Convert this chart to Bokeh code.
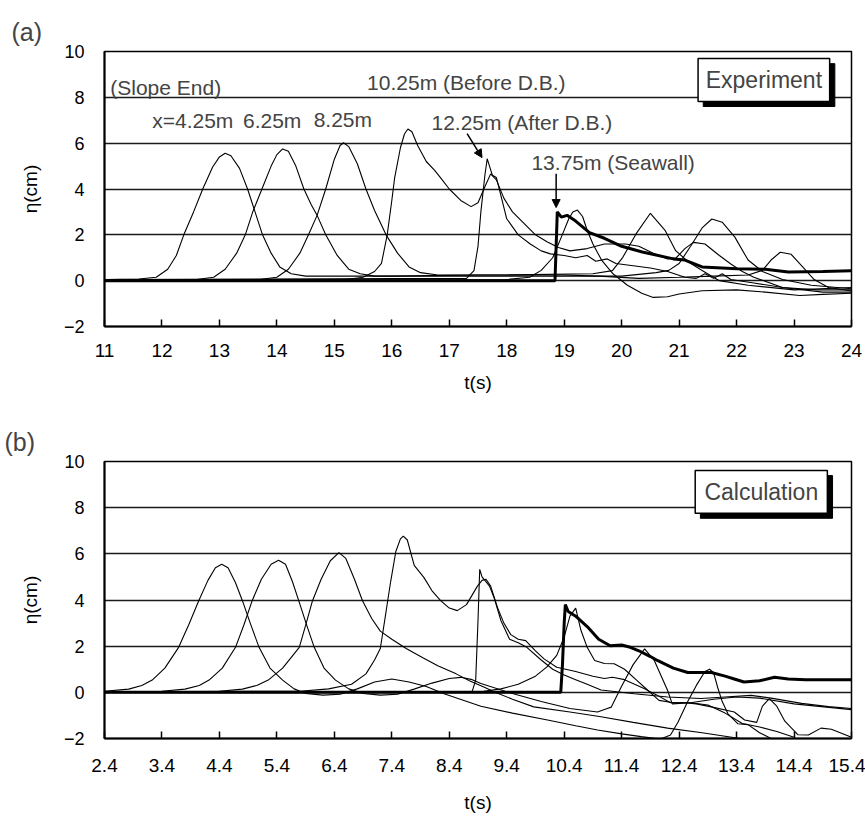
from bokeh.plotting import figure
from bokeh.layouts import column
from bokeh.models import FixedTicker, Label, Arrow, NormalHead
from bokeh.embed import file_html
from bokeh.resources import INLINE

# ---------------- (a) Experiment ----------------
a_xticks = [11, 12, 13, 14, 15, 16, 17, 18, 19, 20, 21, 22, 23, 24]
yticks = [-2, 0, 2, 4, 6, 8, 10]

a_t_425 = [11.0, 11.6, 11.9, 12.1, 12.25, 12.38, 12.55, 12.71, 12.88, 13.0, 13.1, 13.2, 13.35, 13.49, 13.62, 13.75, 13.9, 14.05, 14.25, 14.5, 16.0, 17.5, 19.0, 19.6, 20.3, 21.0, 21.6, 22.2, 22.45, 22.6, 22.76, 22.95, 23.15, 23.35, 23.6, 24.0]
a_e_425 = [0.05, 0.07, 0.15, 0.5, 1.1, 2.0, 3.0, 4.0, 4.95, 5.4, 5.56, 5.45, 4.9, 4.0, 3.0, 2.0, 1.2, 0.6, 0.3, 0.2, 0.2, 0.25, 0.25, 0.2, 0.1, 0.15, 0.2, 0.25, 0.45, 0.9, 1.24, 1.15, 0.6, 0.05, -0.3, -0.45]

a_t_625 = [11.0, 12.6, 12.9, 13.1, 13.3, 13.45, 13.58, 13.74, 13.9, 14.0, 14.1, 14.2, 14.33, 14.47, 14.6, 14.7, 14.85, 15.05, 15.25, 15.45, 15.7, 17.0, 19.0, 20.0, 20.6, 20.82, 21.0, 21.2, 21.4, 21.57, 21.75, 21.97, 22.2, 22.45, 22.8, 23.3, 24.0]
a_e_625 = [0.02, 0.05, 0.15, 0.5, 1.2, 2.0, 3.0, 4.0, 5.0, 5.5, 5.75, 5.65, 5.0, 4.0, 3.3, 2.85, 2.0, 1.1, 0.5, 0.3, 0.2, 0.2, 0.2, 0.2, 0.35, 0.45, 0.75, 1.5, 2.3, 2.69, 2.55, 1.9, 0.9, 0.4, 0.05, -0.2, -0.35]

a_t_825 = [11.0, 13.7, 14.0, 14.2, 14.4, 14.55, 14.7, 14.85, 15.0, 15.1, 15.16, 15.25, 15.4, 15.55, 15.7, 15.9, 16.1, 16.3, 16.5, 16.8, 18.0, 19.5, 19.84, 20.02, 20.25, 20.5, 20.76, 20.94, 21.17, 21.4, 21.7, 22.2, 23.0, 24.0]
a_e_825 = [0.02, 0.05, 0.15, 0.5, 1.2, 2.0, 2.85, 4.0, 5.3, 5.9, 6.02, 5.85, 5.1, 4.0, 3.06, 2.0, 1.2, 0.6, 0.35, 0.25, 0.25, 0.3, 0.44, 1.02, 2.04, 2.94, 2.18, 1.31, 0.8, 0.44, 0.0, -0.2, -0.4, -0.3]

a_t_1025 = [11.0, 15.2, 15.5, 15.7, 15.82, 15.92, 16.0, 16.05, 16.15, 16.22, 16.28, 16.35, 16.45, 16.6, 16.75, 16.86, 17.0, 17.2, 17.38, 17.5, 17.62, 17.72, 17.82, 17.95, 18.1, 18.3, 18.5, 18.7, 18.9, 19.1, 19.4, 19.7, 20.07, 20.3, 20.55, 20.8, 20.95, 21.1, 21.25, 21.45, 21.7, 21.9, 22.1, 22.3, 22.8, 23.4, 24.0]
a_e_1025 = [0.02, 0.05, 0.15, 0.4, 0.75, 2.0, 3.5, 4.5, 5.8, 6.4, 6.62, 6.5, 5.9, 5.2, 4.8, 4.45, 4.0, 3.5, 3.23, 3.4, 4.1, 4.66, 4.4, 3.6, 3.0, 2.5, 2.0, 1.7, 1.45, 1.3, 1.4, 1.6, 1.6, 1.5, 1.2, 0.95, 1.0, 1.4, 1.67, 1.6, 1.1, 0.73, 0.4, 0.15, -0.3, -0.4, -0.4]

a_t_1225 = [11.0, 17.3, 17.43, 17.5, 17.55, 17.62, 17.66, 17.7, 17.75, 17.82, 17.9, 18.0, 18.2, 18.41, 18.6, 18.76, 19.0, 19.2, 19.4, 19.55, 19.75, 19.9, 20.2, 20.5, 20.8, 21.1, 21.3, 21.45, 21.6, 21.75, 21.9, 22.3, 22.8, 23.5, 24.0]
a_e_1225 = [0.05, 0.1, 0.44, 1.5, 3.0, 4.6, 5.32, 5.0, 4.6, 4.5, 3.7, 2.7, 2.0, 1.6, 1.3, 1.17, 1.1, 1.0, 1.1, 0.85, 0.95, 0.75, 0.65, 0.55, 0.4, 0.15, 0.1, 0.3, 0.1, 0.3, 0.05, -0.1, -0.3, -0.5, -0.5]

a_t_g7 = [11.0, 18.0, 18.4, 18.6, 18.8, 18.95, 19.08, 19.15, 19.23, 19.32, 19.4, 19.5, 19.65, 19.85, 20.1, 20.35, 20.55, 20.8, 21.0, 21.4, 22.0, 22.5, 23.1, 23.5, 24.0]
a_e_g7 = [0.02, 0.05, 0.15, 0.45, 1.0, 1.9, 2.7, 3.0, 3.08, 2.8, 2.2, 1.6, 0.9, 0.3, -0.2, -0.55, -0.73, -0.7, -0.58, -0.44, -0.4, -0.5, -0.65, -0.6, -0.55]

a_t_1375 = [11.0, 18.84, 18.88, 18.95, 19.05, 19.2, 19.44, 19.7, 20.0, 20.36, 20.9, 21.1, 21.4, 22.0, 22.5, 22.9, 23.5, 24.0]
a_e_1375 = [0.0, 0.0, 3.0, 2.77, 2.85, 2.6, 2.1, 1.85, 1.5, 1.25, 0.95, 0.9, 0.6, 0.52, 0.5, 0.38, 0.4, 0.43]

# ---------------- (b) Calculation ----------------
b_xticks = [2.4, 3.4, 4.4, 5.4, 6.4, 7.4, 8.4, 9.4, 10.4, 11.4, 12.4, 13.4, 14.4, 15.4]

b_t_425 = [2.4, 2.82, 3.05, 3.23, 3.45, 3.69, 3.87, 4.04, 4.2, 4.33, 4.44, 4.55, 4.68, 4.8, 4.95, 5.09, 5.28, 5.5, 5.7, 5.9, 6.2, 6.5, 6.8, 7.1, 7.4, 7.7, 8.0, 8.31, 8.95, 9.5, 10.11, 10.6, 10.98, 11.4, 11.74, 12.0, 12.1, 12.25, 12.38, 12.55, 12.7, 12.85, 12.93, 13.0, 13.07, 13.15, 13.25, 13.42, 13.6, 13.8, 14.0]
b_e_425 = [0.05, 0.14, 0.3, 0.53, 1.05, 1.95, 2.95, 3.97, 4.85, 5.4, 5.55, 5.4, 4.75, 3.97, 2.9, 1.95, 1.05, 0.53, 0.15, -0.05, -0.12, -0.08, 0.15, 0.45, 0.58, 0.45, 0.25, -0.06, -0.6, -0.9, -1.2, -1.45, -1.63, -1.8, -1.92, -2.0, -2.0, -1.85, -1.3, -0.4, 0.3, 0.9, 1.0, 0.85, 0.22, -0.4, -0.93, -1.36, -1.4, -1.75, -2.0]

b_t_625 = [2.4, 3.4, 3.8, 4.05, 4.22, 4.45, 4.68, 4.83, 4.97, 5.13, 5.3, 5.43, 5.55, 5.67, 5.78, 5.92, 6.05, 6.22, 6.42, 6.65, 6.9, 7.2, 7.5, 7.8, 8.1, 8.4, 8.6, 8.8, 8.95, 9.5, 10.0, 10.5, 10.98, 11.15, 11.22, 11.39, 11.6, 11.8, 11.97, 12.2, 12.28, 12.6, 13.0, 13.4, 13.8, 14.4, 15.4]
b_e_625 = [0.02, 0.05, 0.14, 0.3, 0.53, 1.05, 1.95, 2.95, 3.97, 4.9, 5.55, 5.72, 5.55, 4.8, 3.97, 2.9, 1.95, 1.05, 0.53, 0.15, -0.05, -0.12, -0.08, 0.15, 0.4, 0.6, 0.65, 0.55, 0.38, -0.05, -0.4, -0.7, -0.85, -0.7, -0.64, 0.22, 1.2, 1.88, 1.37, 0.08, -0.5, -0.45, -0.3, -0.2, -0.25, -0.5, -0.75]

b_t_825 = [2.4, 4.4, 4.8, 5.05, 5.25, 5.5, 5.79, 5.9, 6.02, 6.17, 6.33, 6.48, 6.6, 6.75, 6.89, 7.05, 7.2, 7.4, 7.65, 7.94, 8.2, 8.52, 8.75, 9.0, 9.2, 9.5, 9.87, 10.5, 11.04, 11.6, 12.2, 12.8, 13.46]
b_e_825 = [0.02, 0.05, 0.14, 0.3, 0.53, 1.05, 1.95, 2.9, 3.97, 4.9, 5.7, 6.05, 5.8, 4.9, 3.97, 3.2, 2.65, 2.3, 1.9, 1.5, 1.15, 0.8, 0.5, 0.23, 0.0, -0.3, -0.63, -0.85, -1.06, -1.3, -1.55, -1.75, -2.0]

b_t_1025 = [2.4, 5.8, 6.3, 6.7, 6.95, 7.1, 7.2, 7.3, 7.38, 7.47, 7.55, 7.6, 7.67, 7.79, 7.96, 8.1, 8.25, 8.4, 8.54, 8.7, 8.89, 8.97, 9.04, 9.12, 9.24, 9.35, 9.47, 9.6, 9.73, 9.9, 10.05, 10.27, 10.6, 10.9, 11.1, 11.24, 11.45, 11.8, 12.0, 12.25, 12.5, 12.7, 12.96, 13.36, 13.54, 13.75, 13.85, 13.97, 14.1, 14.24, 14.47, 14.65, 14.87, 15.05, 15.4]
b_e_1025 = [0.02, 0.05, 0.15, 0.35, 0.8, 1.4, 1.9, 3.5, 4.8, 6.1, 6.65, 6.77, 6.6, 5.5, 4.97, 4.4, 3.97, 3.65, 3.54, 3.8, 4.6, 4.85, 4.9, 4.6, 3.67, 3.0, 2.5, 2.3, 2.24, 1.8, 1.45, 1.09, 0.9, 0.7, 0.6, 0.65, 0.55, 0.15, -0.1, -0.45, -0.45, -0.5, -0.63, -0.85, -1.2, -1.3, -0.6, -0.27, -0.6, -1.25, -1.84, -1.85, -1.55, -1.6, -1.95]

b_t_1225 = [2.4, 8.8, 8.86, 8.9, 8.93, 8.97, 9.02, 9.1, 9.18, 9.3, 9.45, 9.6, 9.75, 10.0, 10.2, 10.4, 10.6, 10.8, 11.04, 11.62, 12.2, 12.78, 13.2, 13.65, 14.0, 14.53, 15.0, 15.4]
b_e_1225 = [0.03, 0.05, 0.53, 3.1, 5.33, 5.0, 4.85, 4.6, 4.1, 3.1, 2.3, 2.15, 1.95, 1.4, 1.0, 0.75, 0.55, 0.35, 0.1, -0.06, -0.2, -0.27, -0.2, -0.13, -0.25, -0.48, -0.62, -0.7]

b_t_g7 = [2.4, 9.0, 9.3, 9.6, 9.9, 10.1, 10.27, 10.4, 10.5, 10.6, 10.69, 10.8, 10.93, 11.1, 11.27, 11.45, 11.65, 11.85, 12.05, 12.3, 12.6, 12.9, 13.2, 13.5, 13.8, 14.1, 14.4]
b_e_g7 = [0.0, 0.05, 0.15, 0.35, 0.7, 1.1, 1.6, 2.4, 3.3, 3.65, 2.7, 1.95, 1.38, 1.25, 1.24, 1.0, 0.55, 0.1, -0.35, -0.45, -0.45, -0.55, -0.9, -1.35, -1.5, -1.7, -1.95]

b_t_1375 = [2.4, 10.34, 10.37, 10.4, 10.42, 10.47, 10.6, 10.8, 11.0, 11.2, 11.4, 11.55, 11.7, 11.9, 12.03, 12.3, 12.55, 12.96, 13.2, 13.36, 13.53, 13.8, 14.06, 14.3, 14.6, 15.0, 15.4]
b_e_1375 = [0.0, 0.0, 1.2, 3.0, 3.8, 3.5, 3.3, 2.85, 2.3, 2.02, 2.05, 1.95, 1.8, 1.55, 1.37, 1.05, 0.86, 0.86, 0.7, 0.58, 0.45, 0.5, 0.65, 0.58, 0.55, 0.55, 0.55]

FONT = "Liberation Sans"


def make_panel(xr, xticks, label, left, bottom_border, offset, tick_sto, lab_sto):
    p = figure(width=865, height=410, x_range=xr, y_range=(-2, 10),
               output_backend="svg", toolbar_location=None,
               min_border_left=left, min_border_right=14, min_border_top=51,
               min_border_bottom=bottom_border)
    p.title.text = label
    p.title.text_font = FONT
    p.title.text_font_size = "25px"
    p.title.text_font_style = "normal"
    p.title.align = "left"
    p.title.offset = offset
    p.title.standoff = 12
    p.outline_line_color = "black"
    p.outline_line_width = 1.5
    p.xgrid.grid_line_color = None
    p.ygrid.ticker = FixedTicker(ticks=yticks)
    p.ygrid.grid_line_color = "#1a1a1a"
    p.ygrid.grid_line_width = 1.3
    p.xaxis.ticker = FixedTicker(ticks=xticks)
    p.yaxis.ticker = FixedTicker(ticks=yticks)
    for ax in (p.xaxis[0], p.yaxis[0]):
        ax.axis_line_width = 2
        ax.axis_line_color = "black"
        ax.minor_tick_line_color = None
        ax.major_label_text_color = "black"
        ax.axis_label_text_color = "black"
        ax.axis_label_text_font_style = "normal"
    p.xaxis.major_tick_in = 7
    p.xaxis.major_tick_out = 0
    p.xaxis.major_tick_line_width = 1.5
    p.xaxis.major_tick_line_color = "black"
    p.yaxis.major_tick_in = 0
    p.yaxis.major_tick_out = 0
    p.xaxis.major_label_text_font = FONT
    p.xaxis.major_label_text_font_size = "19px"
    p.xaxis.major_label_standoff = tick_sto
    p.yaxis.major_label_text_font = FONT
    p.yaxis.major_label_text_font_size = "18px"
    p.yaxis.major_label_standoff = 20
    p.xaxis.axis_label = "t(s)"
    p.xaxis.axis_label_text_font = FONT
    p.xaxis.axis_label_text_font_size = "19px"
    p.xaxis.axis_label_standoff = lab_sto
    p.yaxis.axis_label = "η(cm)"
    p.yaxis.axis_label_text_font = FONT
    p.yaxis.axis_label_text_font_size = "19px"
    p.yaxis.axis_label_standoff = 20
    return p


def box(p, l, r, t, b, dx, dy, text):
    p.quad(left=[l + dx], right=[r + dx], top=[t - dy], bottom=[b - dy],
           fill_color="black", line_color="black")
    p.quad(left=[l], right=[r], top=[t], bottom=[b],
           fill_color="white", line_color="black", line_width=1.5)
    p.add_layout(Label(x=(l + r) / 2, y=(t + b) / 2, text=text,
                       text_font=FONT, text_font_size="23px",
                       text_align="center", text_baseline="middle"))


# ---- panel (a)
pa = make_panel((11, 24), a_xticks, "(a)", 97, 84, -93, 17, 12)
for tt, ee in [(a_t_425, a_e_425), (a_t_625, a_e_625), (a_t_825, a_e_825),
               (a_t_1025, a_e_1025), (a_t_1225, a_e_1225), (a_t_g7, a_e_g7)]:
    pa.line(tt, ee, line_color="black", line_width=1.1)
pa.line(a_t_1375, a_e_1375, line_color="black", line_width=3)

for x, y, txt in [(11.1, 8.45, "(Slope End)"), (11.83, 6.98, "x=4.25m"),
                  (13.41, 6.98, "6.25m"), (14.64, 7.05, "8.25m"),
                  (15.57, 8.65, "10.25m (Before D.B.)"),
                  (16.69, 6.92, "12.25m (After D.B.)"),
                  (18.43, 5.15, "13.75m (Seawall)")]:
    pa.add_layout(Label(x=x, y=y, text=txt, text_font=FONT, text_font_size="21px",
                        text_align="left", text_baseline="middle"))
pa.add_layout(Arrow(end=NormalHead(size=8, fill_color="black", line_color="black"),
                    x_start=17.31, y_start=6.42, x_end=17.57, y_end=5.37,
                    line_color="black", line_width=1.5))
pa.add_layout(Arrow(end=NormalHead(size=8, fill_color="black", line_color="black"),
                    x_start=18.86, y_start=4.67, x_end=18.86, y_end=3.19,
                    line_color="black", line_width=1.5))
box(pa, 21.33, 23.62, 9.69, 7.82, 0.09, 0.22, "Experiment")

# ---- panel (b)
pb = make_panel((2.4, 15.4), b_xticks, "(b)", 104, 82, -100, 20, 17)
for tt, ee in [(b_t_425, b_e_425), (b_t_625, b_e_625), (b_t_825, b_e_825),
               (b_t_1025, b_e_1025), (b_t_1225, b_e_1225), (b_t_g7, b_e_g7)]:
    pb.line(tt, ee, line_color="black", line_width=1.1)
pb.line(b_t_1375, b_e_1375, line_color="black", line_width=3)
box(pb, 12.68, 14.98, 9.61, 7.76, 0.09, 0.22, "Calculation")

layout = column(pa, pb, spacing=0)
open("out.html", "w").write(file_html(layout, INLINE))
